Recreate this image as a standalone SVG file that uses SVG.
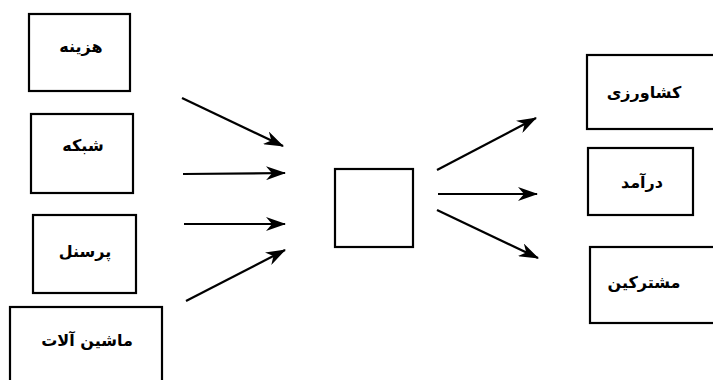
<svg xmlns="http://www.w3.org/2000/svg" width="713" height="380" viewBox="0 0 713 380">
<style>
.box{fill:#fff;stroke:#000;stroke-width:2.2}
.lbl{font-family:"DejaVu Sans",sans-serif;font-weight:bold;font-size:16px;fill:#000;text-anchor:middle;dominant-baseline:middle;direction:rtl}
.arr{stroke:#000;stroke-width:2.2;fill:none}
</style>
<defs>
<marker id="ah" viewBox="0 0 20 14" refX="19" refY="7" markerWidth="20" markerHeight="14" markerUnits="userSpaceOnUse" orient="auto">
<path d="M0,0 L20,7 L0,14 L6,7 Z" fill="#000"/>
</marker>
</defs>
<rect width="713" height="380" fill="#fff"/>
<g id="n-hazineh"><rect class="box" x="29" y="14" width="101" height="77"/><text class="lbl" x="81" y="47">هزینه</text></g>
<g id="n-shabakeh"><rect class="box" x="31" y="114" width="102" height="79"/><text class="lbl" x="83" y="146">شبکه</text></g>
<g id="n-personel"><rect class="box" x="33" y="215" width="103" height="78"/><text class="lbl" x="85" y="252">پرسنل</text></g>
<g id="n-mashin"><rect class="box" x="10" y="307" width="152" height="80"/><text class="lbl" x="87" y="341">ماشین آلات</text></g>
<g id="n-center"><rect class="box" x="335" y="169" width="78" height="78"/></g>
<g id="n-keshavarzi"><rect class="box" x="587" y="55" width="140" height="74"/><text class="lbl" x="644" y="93">کشاورزی</text></g>
<g id="n-daramad"><rect class="box" x="588" y="148" width="105" height="67"/><text class="lbl" x="642" y="183">درآمد</text></g>
<g id="n-moshtarekin"><rect class="box" x="590" y="247" width="140" height="76"/><text class="lbl" x="644" y="283">مشترکین</text></g>
<g id="connectors">
<line class="arr" marker-end="url(#ah)" x1="182" y1="98" x2="283" y2="146"/>
<line class="arr" marker-end="url(#ah)" x1="183" y1="174" x2="285" y2="173"/>
<line class="arr" marker-end="url(#ah)" x1="184" y1="224" x2="285" y2="224"/>
<line class="arr" marker-end="url(#ah)" x1="186" y1="301" x2="285" y2="250"/>
<line class="arr" marker-end="url(#ah)" x1="437" y1="170" x2="536" y2="118"/>
<line class="arr" marker-end="url(#ah)" x1="438" y1="194" x2="537" y2="194"/>
<line class="arr" marker-end="url(#ah)" x1="437" y1="210" x2="538" y2="258"/>
</g>
</svg>
